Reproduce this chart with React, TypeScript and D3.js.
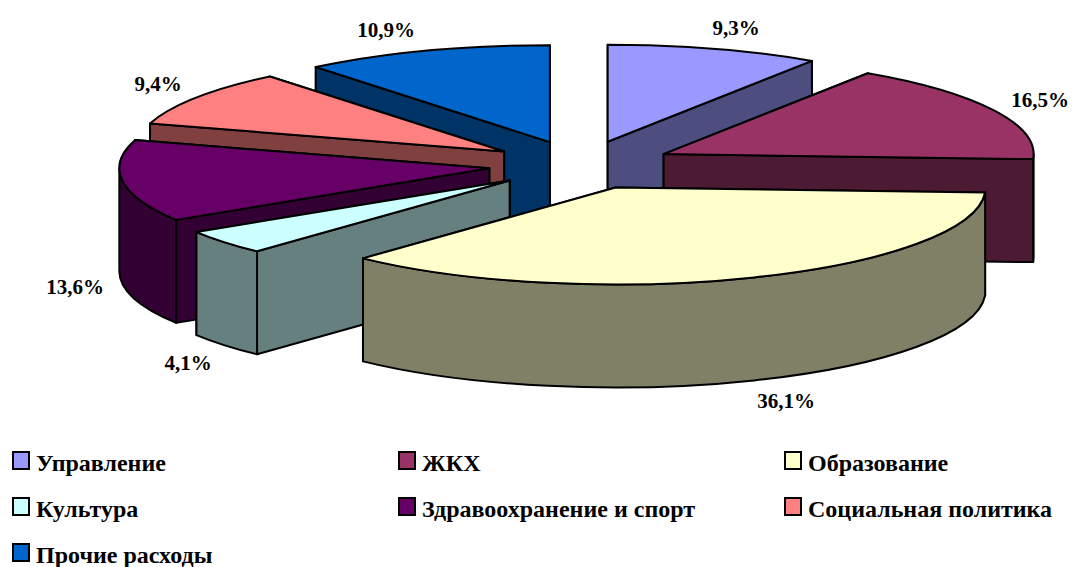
import * as d3 from "d3";

const categories = [
  "Управление",
  "ЖКХ",
  "Образование",
  "Культура",
  "Здравоохранение и спорт",
  "Социальная политика",
  "Прочие расходы",
];
const values = [9.3, 16.5, 36.1, 4.1, 13.6, 9.4, 10.9];
const topColors = ["#9999ff", "#993366", "#ffffcc", "#ccffff", "#660066", "#ff8080", "#0066cc"];
const wallColors = ["#4d4d80", "#4d1a33", "#808066", "#668080", "#330033", "#804040", "#003366"];

// where the percent labels sit (centre of text)
const labelX = [736, 1040, 786, 188, 75, 158, 386];
const labelY = [35, 107, 408, 370, 294, 91, 37];

const width = 1081;
const height = 567;

// pie geometry, fitted on the picture
const cx = 581;
const cy = 165;
const rx = 370;
const ry = 97;
const depth = 103;
const explode = 0.25;

const serif = "'Liberation Serif', 'Times New Roman', serif";

const pie = d3.pie<number>().sort(null).startAngle(0).endAngle(2 * Math.PI);

export default function App() {
  const arcs = pie(values).map((d) => {
    const mid = (d.startAngle + d.endAngle) / 2;
    const ax = cx + explode * rx * Math.sin(mid);
    const ay = cy - explode * ry * Math.cos(mid);
    const rim = (a: number, dy = 0): [number, number] => [
      ax + rx * Math.sin(a),
      ay - ry * Math.cos(a) + dy,
    ];
    return { ...d, ax, ay, rim };
  });

  // back slices first
  const drawOrder = d3.range(arcs.length).sort((a, b) => arcs[a].ay - arcs[b].ay);

  const legendX = d3.scalePoint<number>().domain([0, 1, 2]).range([13, 785]);
  const legendY = d3.scalePoint<number>().domain([0, 1, 2]).range([452, 544]);

  return (
    <svg
      width={width}
      height={height}
      viewBox={`0 0 ${width} ${height}`}
      style={{ position: "absolute", left: 0, top: 0, background: "#fff" }}
    >
      {drawOrder.map((i) => {
        const s = arcs[i];
        const a0 = s.startAngle;
        const a1 = s.endAngle;

        const radialWall = (a: number) => {
          const p = s.rim(a);
          const q = s.rim(a, depth);
          return `M${s.ax},${s.ay}L${p}L${q}L${s.ax},${s.ay + depth}Z`;
        };
        // the wall whose rim is higher on screen is behind the other one
        const radials = [a0, a1].sort((m, n) => s.rim(m)[1] - s.rim(n)[1]);

        const w0 = Math.max(a0, Math.PI / 2);
        const w1 = Math.min(a1, (3 * Math.PI) / 2);
        const hasCurve = w1 > w0;
        const curve = hasCurve
          ? `M${s.rim(w0)}A${rx},${ry} 0 0 1 ${s.rim(w1)}L${s.rim(w1, depth)}A${rx},${ry} 0 0 0 ${s.rim(w0, depth)}Z`
          : "";

        const large = a1 - a0 > Math.PI ? 1 : 0;
        const top = `M${s.ax},${s.ay}L${s.rim(a0)}A${rx},${ry} 0 ${large} 1 ${s.rim(a1)}Z`;

        return (
          <g key={i} stroke="#000" strokeWidth={2} strokeLinejoin="round">
            {radials.map((a, k) => (
              <path key={k} d={radialWall(a)} fill={wallColors[i]} />
            ))}
            {hasCurve && <path d={curve} fill={wallColors[i]} />}
            <path d={top} fill={topColors[i]} />
          </g>
        );
      })}

      {values.map((v, i) => (
        <text
          key={i}
          x={labelX[i]}
          y={labelY[i]}
          textAnchor="middle"
          fontFamily={serif}
          fontWeight="bold"
          fontSize={21}
          fill="#000"
        >
          {`${String(v).replace(".", ",")}%`}
        </text>
      ))}

      {categories.map((c, i) => {
        const x = legendX(i % 3) as number;
        const y = legendY(Math.floor(i / 3)) as number;
        return (
          <g key={c}>
            <rect x={x} y={y} width={16} height={17} fill={topColors[i]} stroke="#000" strokeWidth={2} />
            <text x={x + 23} y={y + 19} fontFamily={serif} fontWeight="bold" fontSize={24} fill="#000">
              {c}
            </text>
          </g>
        );
      })}
    </svg>
  );
}
